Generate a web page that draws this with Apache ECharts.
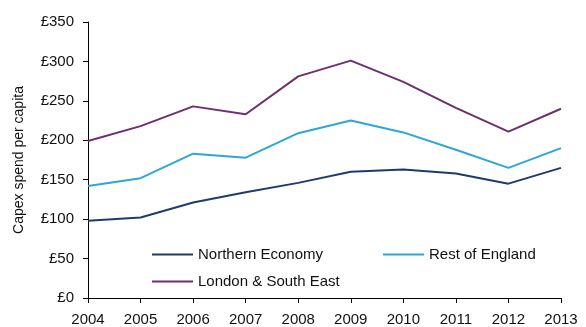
<!DOCTYPE html>
<html><head><meta charset="utf-8">
<script src="https://cdn.jsdelivr.net/npm/echarts@6/dist/echarts.min.js"></script>
<style>html,body{margin:0;padding:0;background:#fff}#c{width:586px;height:327px}</style>
</head><body><div id="c"></div>
<script>
const years = ['2004','2005','2006','2007','2008','2009','2010','2011','2012','2013'];
const northern = [98, 102, 121, 134, 146, 160, 163, 158, 145, 165];
const restOfEngland = [142, 152, 183, 178, 209, 225, 210, 188, 165, 190];
const londonSE = [199, 218, 243, 233, 281, 301, 274, 241, 211, 240];
const yTicks = [0, 50, 100, 150, 200, 250, 300, 350];

const font = 'Liberation Sans, Arial, sans-serif';
const chart = echarts.init(document.getElementById('c'));
const legendBase = {
  orient: 'horizontal', itemWidth: 41, itemHeight: 10, itemGap: 4,
  icon: 'path://M0,4 L40,4 L40,6 L0,6 Z',
  textStyle: {fontFamily: font, fontSize: 15, color: '#111', padding: [0,0,0,0]},
  padding: 0
};
chart.setOption({
  animation: false,
  grid: {left: 88, right: 25, top: 22, bottom: 27},
  legend: [
    Object.assign({}, legendBase, {data: ['Northern Economy'], left: 152, top: 247}),
    Object.assign({}, legendBase, {data: ['Rest of England'], left: 383, top: 247}),
    Object.assign({}, legendBase, {data: ['London & South East'], left: 152, top: 274})
  ],
  xAxis: {
    type: 'category', data: years, boundaryGap: false,
    axisLine: {lineStyle: {color: '#000', width: 1}},
    axisTick: {show: true, length: 5, alignWithLabel: true, lineStyle: {color: '#000'}},
    axisLabel: {fontFamily: font, fontSize: 15, color: '#111', margin: 14, interval: 0}
  },
  yAxis: {
    type: 'value', min: 0, max: 350, interval: 50,
    name: 'Capex spend per capita', nameLocation: 'middle', nameGap: 62,
    nameTextStyle: {fontFamily: font, fontSize: 14, color: '#111'},
    axisLine: {show: true, lineStyle: {color: '#000', width: 1}},
    axisTick: {show: true, length: 5, lineStyle: {color: '#000'}},
    splitLine: {show: false},
    axisLabel: {fontFamily: font, fontSize: 15, color: '#111', margin: 14,
      formatter: v => yTicks.includes(v) ? '£' + v : ''}
  },
  series: [
    {name: 'Northern Economy', type: 'line', data: northern, showSymbol: false,
     lineStyle: {width: 2, color: '#1f3a6e'}, itemStyle: {color: '#1f3a6e'}},
    {name: 'Rest of England', type: 'line', data: restOfEngland, showSymbol: false,
     lineStyle: {width: 2, color: '#2ea6d8'}, itemStyle: {color: '#2ea6d8'}},
    {name: 'London & South East', type: 'line', data: londonSE, showSymbol: false,
     lineStyle: {width: 2, color: '#6e2f6e'}, itemStyle: {color: '#6e2f6e'}}
  ]
});
</script></body></html>
